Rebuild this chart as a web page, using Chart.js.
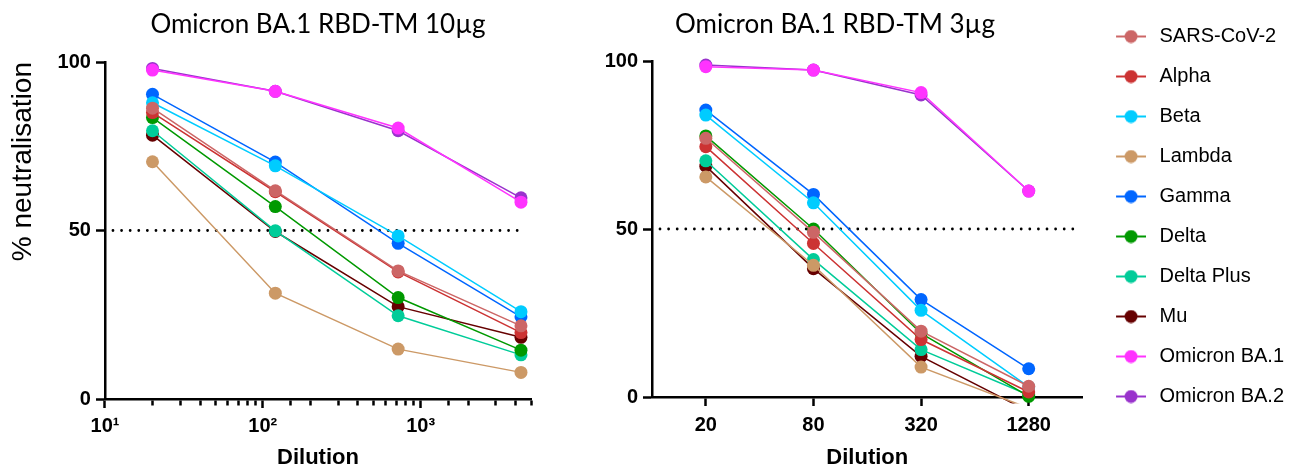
<!DOCTYPE html>
<html>
<head>
<meta charset="utf-8">
<script src="https://cdn.jsdelivr.net/npm/chart.js@4.4.1/dist/chart.umd.min.js"></script>
<style>
  html, body { margin: 0; padding: 0; background: #fff; overflow: hidden; }
  #wrap { position: relative; width: 1294px; height: 469px; }
  .panel { position: absolute; top: 0; }
  #left { left: 0; }
  #right { left: 376px; }
</style>
</head>
<body>
<div id="wrap">
  <div class="panel" id="left"><canvas id="chart10" width="560" height="469"></canvas></div>
  <div class="panel" id="right"><canvas id="chart3" width="918" height="469"></canvas></div>
</div>
<script>
// dilution series for the two doses
var dilutions10 = [20, 120, 720, 4320];
var dilutions3 = ['20', '80', '320', '1280'];

var variantNames = ['SARS-CoV-2', 'Alpha', 'Beta', 'Lambda', 'Gamma', 'Delta', 'Delta Plus', 'Mu', 'Omicron BA.1', 'Omicron BA.2'];
var variantColors = ['#cc6666', '#cc3333', '#00ccff', '#cc9966', '#0066ff', '#009900', '#00cc99', '#660000', '#ff33ff', '#9933cc'];

// % neutralisation, 10µg
var sars10 = [86.3, 61.8, 38.0, 21.7];
var alpha10 = [85.0, 61.5, 37.7, 19.7];
var beta10 = [87.9, 69.2, 48.4, 25.9];
var lambda10 = [70.4, 31.4, 14.8, 7.9];
var gamma10 = [90.4, 70.3, 46.2, 24.4];
var delta10 = [83.5, 57.1, 30.1, 14.5];
var deltaPlus10 = [79.6, 49.9, 24.7, 13.1];
var mu10 = [78.3, 49.7, 27.4, 18.3];
var ba1_10 = [97.6, 91.3, 80.4, 58.4];
var ba2_10 = [98.1, 91.3, 79.6, 59.7];

// % neutralisation, 3µg
var sars3 = [77.0, 49.0, 19.6, 3.2];
var alpha3 = [74.5, 45.7, 17.1, 1.5];
var beta3 = [83.9, 57.8, 25.8, 3.0];
var lambda3 = [65.5, 39.2, 8.9, -3.3];
var gamma3 = [85.4, 60.3, 29.0, 8.4];
var delta3 = [77.7, 50.0, 18.9, 0.2];
var deltaPlus3 = [70.3, 40.9, 14.1, 0.6];
var mu3 = [68.7, 38.2, 12.1, -4.3];
var ba1_3 = [98.3, 97.3, 90.6, 61.3];
var ba2_3 = [98.8, 97.3, 89.9, 61.3];

var yTicks = [0, 50, 100];
var threshold = 50;

var series10 = [sars10, alpha10, beta10, lambda10, gamma10, delta10, deltaPlus10, mu10, ba1_10, ba2_10];
var series3 = [sars3, alpha3, beta3, lambda3, gamma3, delta3, deltaPlus3, mu3, ba1_3, ba2_3];

Chart.defaults.font.family = "'Liberation Sans', Arial, sans-serif";
Chart.defaults.color = '#000';

function buildDatasets(xs, series) {
    return variantNames.map(function (name, i) {
        return {
            label: name,
            data: series[i].map(function (v, j) { return { x: xs[j], y: v }; }),
            borderColor: variantColors[i],
            backgroundColor: variantColors[i],
            borderWidth: 1.5,
            pointRadius: 6.5,
            pointHoverRadius: 6.5,
            pointBorderWidth: 0,
            clip: { left: 10, right: 10, top: 10, bottom: 6.5 }
        };
    });
}

// line with a dot, like the symbols on the plot
var legendMarks = variantColors.map(function (c) {
    var cv = document.createElement('canvas');
    cv.width = 40;
    cv.height = 14;
    var g = cv.getContext('2d');
    g.strokeStyle = c;
    g.lineWidth = 2;
    g.beginPath();
    g.moveTo(10, 7);
    g.lineTo(40, 7);
    g.stroke();
    g.fillStyle = c;
    g.beginPath();
    g.arc(25, 7, 6.5, 0, Math.PI * 2);
    g.fill();
    return cv;
});

// dotted 50% line
var halfLine = {
    id: 'halfLine',
    beforeDatasetsDraw: function (chart) {
        var area = chart.chartArea;
        var y = chart.scales.y.getPixelForValue(threshold);
        var ctx = chart.ctx;
        ctx.save();
        ctx.strokeStyle = '#000';
        ctx.lineWidth = 2.8;
        ctx.lineCap = 'round';
        ctx.setLineDash([0, 8.6]);
        ctx.beginPath();
        ctx.moveTo(area.left + 8, y);
        ctx.lineTo(area.right - 8, y);
        ctx.stroke();
        ctx.restore();
    }
};

var tickFont = { weight: 'bold', size: 20, lineHeight: 1 };
var axisBorder = { display: true, color: '#000', width: 2.5 };

function yAxis(withTitle, width) {
    return {
        min: 0,
        max: 100,
        afterBuildTicks: function (scale) {
            scale.ticks = yTicks.map(function (v) { return { value: v }; });
        },
        afterFit: function (scale) {
            if (width) scale.width = width;
        },
        border: axisBorder,
        grid: { drawOnChartArea: false, tickLength: 9, tickColor: '#000', tickWidth: 2.5 },
        ticks: { font: tickFont, padding: 5 },
        title: {
            display: withTitle,
            text: '% neutralisation',
            align: 'end',
            font: { size: 28 },
            padding: { top: 6, bottom: 13 }
        }
    };
}

var sup = { 1: '\u00b9', 2: '\u00b2', 3: '\u00b3' };
function isDecade(v) {
    var e = Math.log10(v);
    return Math.abs(e - Math.round(e)) < 1e-9;
}

var ctx10 = document.getElementById('chart10').getContext('2d');
var chart10 = new Chart(ctx10, {
    type: 'line',
    data: { datasets: buildDatasets(dilutions10, series10) },
    plugins: [halfLine],
    options: {
        responsive: false,
        animation: false,
        events: [],
        layout: { padding: { left: 0, right: 29, top: 0, bottom: 0 } },
        plugins: {
            legend: { display: false },
            tooltip: { enabled: false },
            title: {
                display: true,
                fullSize: false,
                text: 'Omicron BA.1 RBD-TM 10\u00b5g',
                font: { family: 'Lato', size: 26, weight: 'normal' },
                color: '#000',
                padding: { top: 9, bottom: 21.8 }
            }
        },
        scales: {
            x: {
                type: 'logarithmic',
                min: 10,
                max: 5000,
                border: axisBorder,
                grid: {
                    drawOnChartArea: false,
                    tickLength: 9,
                    tickColor: '#000',
                    tickWidth: 2.5,
                    // minor ticks are shorter than the decades
                    tickBorderDash: function (c) {
                        return (c.tick && isDecade(c.tick.value)) ? [] : [5, 30];
                    }
                },
                ticks: {
                    autoSkip: false,
                    maxRotation: 0,
                    font: tickFont,
                    padding: 8,
                    callback: function (v) {
                        if (!isDecade(v)) return '';
                        return '10' + sup[Math.round(Math.log10(v))];
                    }
                },
                title: {
                    display: true,
                    text: 'Dilution',
                    font: { weight: 'bold', size: 22, lineHeight: 1 },
                    padding: { top: 3, bottom: 0 }
                }
            },
            y: yAxis(true, 0)
        }
    }
});

var ctx3 = document.getElementById('chart3').getContext('2d');
var chart3 = new Chart(ctx3, {
    type: 'line',
    data: { labels: dilutions3, datasets: buildDatasets(dilutions3, series3) },
    plugins: [halfLine],
    options: {
        responsive: false,
        animation: false,
        events: [],
        layout: { padding: { left: 0, right: 0, top: 6.5, bottom: 0 } },
        plugins: {
            tooltip: { enabled: false },
            title: {
                display: true,
                text: 'Omicron BA.1 RBD-TM 3\u00b5g',
                font: { family: 'Lato', size: 26, weight: 'normal' },
                color: '#000',
                padding: { top: 3, bottom: 20.3 }
            },
            legend: {
                position: 'right',
                align: 'start',
                labels: {
                    usePointStyle: true,
                    pointStyleWidth: 47,
                    padding: 20,
                    color: '#000',
                    font: { size: 20 },
                    generateLabels: function (chart) {
                        var items = Chart.defaults.plugins.legend.labels.generateLabels(chart);
                        items.forEach(function (item, i) { item.pointStyle = legendMarks[i]; });
                        return items;
                    }
                }
            }
        },
        scales: {
            x: {
                type: 'category',
                offset: true,
                border: axisBorder,
                grid: { offset: false, drawOnChartArea: false, tickLength: 9, tickColor: '#000', tickWidth: 2.5 },
                ticks: { font: tickFont, padding: 9, maxRotation: 0 },
                title: {
                    display: true,
                    text: 'Dilution',
                    font: { weight: 'bold', size: 22, lineHeight: 1 },
                    padding: { top: 3, bottom: 0 }
                }
            },
            y: yAxis(false, 276)
        }
    }
});
</script>
</body>
</html>
